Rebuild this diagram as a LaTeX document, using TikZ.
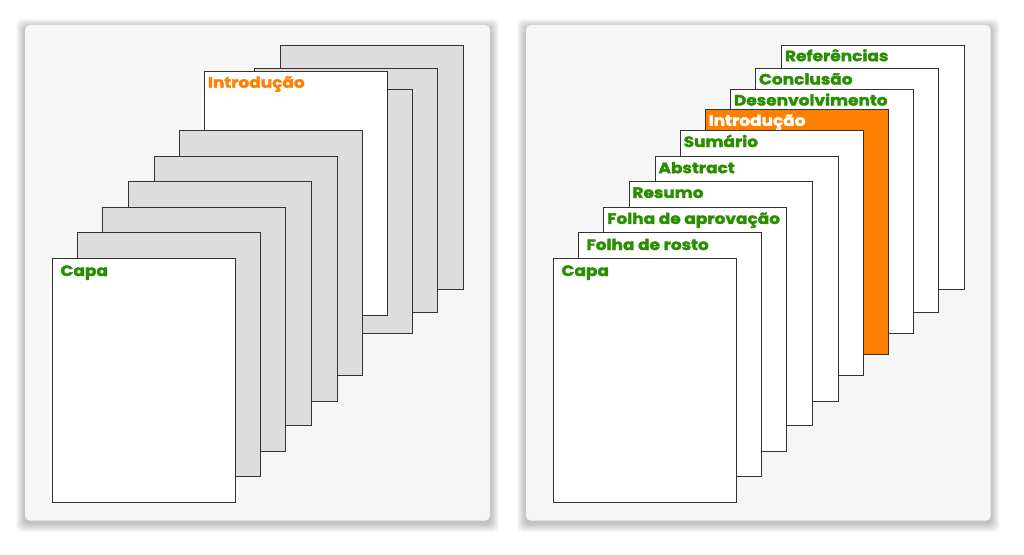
\documentclass[tikz,border=0pt]{standalone}
\usepackage{fontspec}
\newfontfamily\labelfont[FakeStretch=1.13, BoldFeatures={FakeBold=2.2}]{Poppins}
\definecolor{panelgray}{HTML}{F6F6F6}
\definecolor{pagegray}{HTML}{DDDDDD}
\definecolor{lblgreen}{HTML}{2A8F00}
\definecolor{lblorange}{HTML}{FF8000}
\tikzset{
  panel/.style={fill=panelgray, rounded corners=5pt},
  halo/.style={fill=black, opacity=0.028, rounded corners=6pt},
  page/.style={draw=black!80, line width=1pt, fill=white, minimum width=183pt,
    minimum height=244.6pt, inner sep=0pt, anchor=north west},
  grey page/.style={page, fill=pagegray},
  lbl/.style={font=\labelfont\bfseries\fontsize{15}{15}\selectfont, text=lblgreen,
    inner sep=0pt, anchor=base west},
}
\begin{document}
\begin{tikzpicture}[x=1pt, y=-1pt]
  \fill[white] (0,0) rectangle (1024,554);
  \useasboundingbox (0,0) rectangle (1024,554);
  % panels with soft shadow
  \foreach \i in {1,...,9} {
    \fill[halo] (25-\i,25-\i+2.5) rectangle (490+\i,520.7+\i+2.5);
    \fill[halo] (526-\i,25-\i+2.5) rectangle (990.7+\i,520.7+\i+2.5);
  }
  \fill[panel] (25,25) rectangle (490,520.7);
  \fill[panel] (526,25) rectangle (990.7,520.7);
  % left stack, introduction pulled up
  \foreach \x/\y/\name in {280.3/44.7/lref, 254.3/67.7/lconcl, 229.3/88.7/ldesenv}
    \node (\name) [grey page] at (\x,\y) {};
  \node (lintro) [page] at (204.3,70.7) {};
  \node [lbl, text=lblorange] at ([shift={(3.4pt,-17pt)}]lintro.north west) {Introdução};
  \foreach \x/\y/\name in {179.3/130/lsum, 154/156/labs, 127.7/180.7/lres,
      102.3/206.7/laprov, 77.3/231.7/lrosto}
    \node (\name) [grey page] at (\x,\y) {};
  \node (lcapa) [page] at (52.3,257.7) {};
  \node [lbl] at ([shift={(8pt,-18.3pt)}]lcapa.north west) {Capa};
  % right stack, every part named
  \foreach \x/\y/\name/\txt/\fillc/\textc/\dx/\dy in {
      781.3/44.7/rref/Referências/white/lblgreen/3.5/16.5,
      755.3/67.7/rconcl/Conclusão/white/lblgreen/3.5/16.8,
      730.3/88.7/rdesenv/Desenvolvimento/white/lblgreen/3.5/16.8,
      705.3/109/rintro/Introdução/lblorange/white/3.2/16.8,
      680.3/130/rsum/Sumário/white/lblgreen/3.2/17,
      655/156/rabs/Abstract/white/lblgreen/3.3/17.2,
      628.7/180.7/rres/Resumo/white/lblgreen/3.5/17.2,
      603.3/206.7/raprov/Folha de aprovação/white/lblgreen/3.7/17.2,
      578.3/231.7/rrosto/Folha de rosto/white/lblgreen/8/18.3,
      553.3/257.7/rcapa/Capa/white/lblgreen/8/18.3} {
    \node (\name) [page, fill=\fillc] at (\x,\y) {};
    \node [lbl, text=\textc] at ([shift={(\dx pt,-\dy pt)}]\name.north west) {\txt};
  }
\end{tikzpicture}
\end{document}
